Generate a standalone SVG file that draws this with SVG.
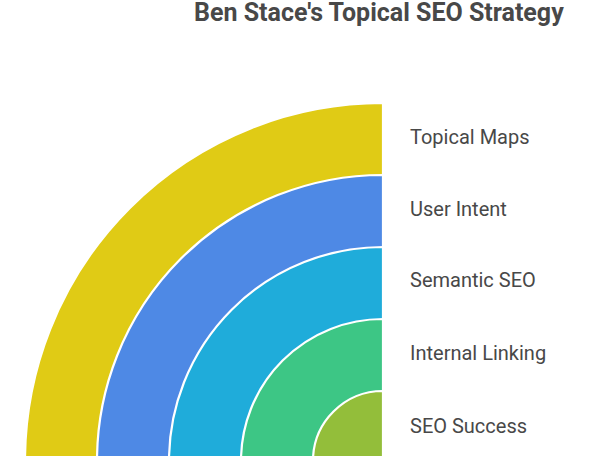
<svg xmlns="http://www.w3.org/2000/svg" width="594" height="456" viewBox="0 0 594 456">
  <style>
    .title { font-family: Roboto, "Liberation Sans", sans-serif; font-weight: bold; font-size: 25px; fill: #484848; }
    .label { font-family: Roboto, "Liberation Sans", sans-serif; font-size: 20px; fill: #484848; }
    .ring { stroke: #ffffff; stroke-width: 2.2; }
  </style>
  <rect width="594" height="456" fill="#ffffff"/>
  <text class="title" x="194" y="21">Ben Stace's Topical SEO Strategy</text>
  <g id="topical-maps">
    <path class="ring" fill="#E0CB15" d="M383 461 L25 461 A358 358 0 0 1 383 103 Z"/>
    <text class="label" x="410" y="144">Topical Maps</text>
  </g>
  <g id="user-intent">
    <path class="ring" fill="#4E89E5" d="M383 461 L97 461 A286 286 0 0 1 383 175 Z"/>
    <text class="label" x="410" y="216">User Intent</text>
  </g>
  <g id="semantic-seo">
    <path class="ring" fill="#1FACDA" d="M383 461 L169 461 A214 214 0 0 1 383 247 Z"/>
    <text class="label" x="410" y="287">Semantic SEO</text>
  </g>
  <g id="internal-linking">
    <path class="ring" fill="#3DC685" d="M383 461 L241 461 A142 142 0 0 1 383 319 Z"/>
    <text class="label" x="410" y="360">Internal Linking</text>
  </g>
  <g id="seo-success">
    <path class="ring" fill="#93BE3A" d="M383 461 L313 461 A70 70 0 0 1 383 391 Z"/>
    <text class="label" x="410" y="433">SEO Success</text>
  </g>
  <g id="connectors"></g>
</svg>
